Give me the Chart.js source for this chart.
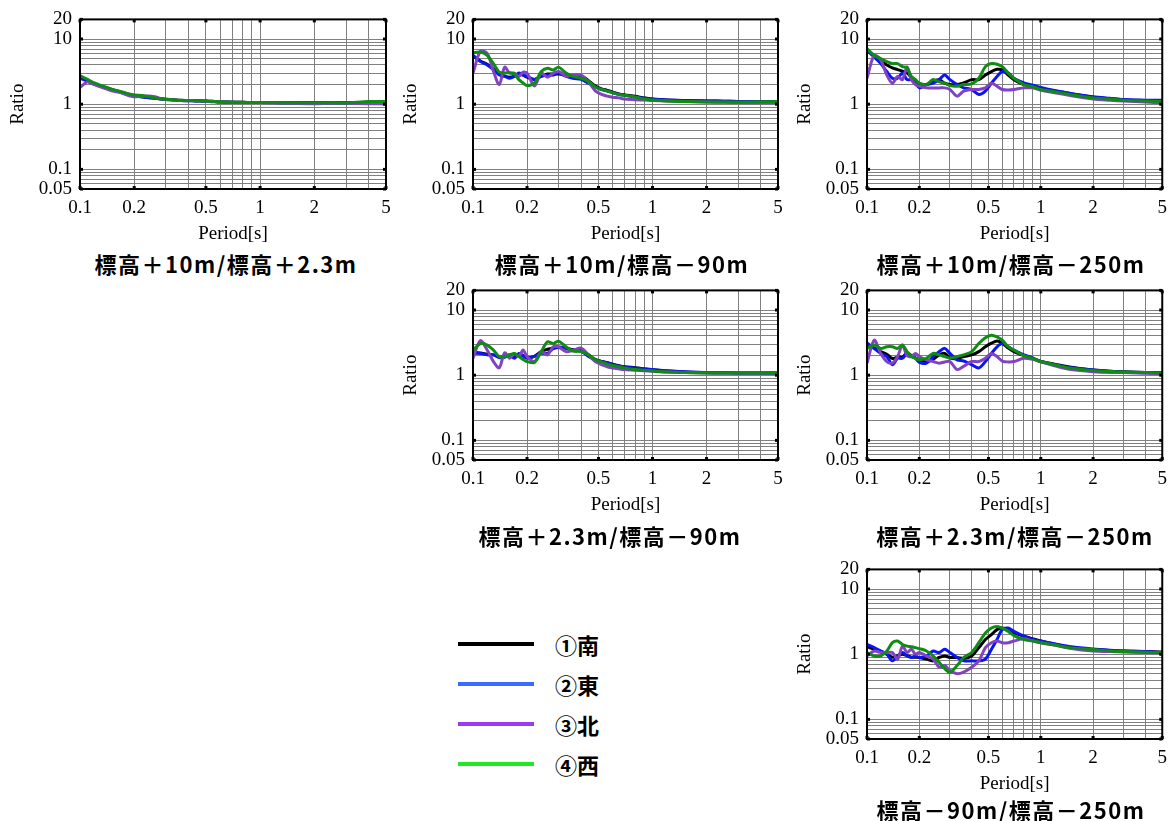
<!DOCTYPE html>
<html>
<head>
<meta charset="utf-8">
<script src="https://cdn.jsdelivr.net/npm/chart.js@4.4.1/dist/chart.umd.min.js"></script>
<style>
  html, body { margin: 0; padding: 0; background: #fff; }
  body { position: relative; width: 1175px; height: 821px; overflow: hidden; }
  canvas { position: absolute; }
  .cap {
    position: absolute; white-space: nowrap; line-height: 1;
    font-family: "Noto Sans CJK JP", sans-serif; font-weight: 700;
    font-size: 22px; letter-spacing: 1.5px; color: #000;
    transform: translate(-50%, -50%);
  }
  .key { position: absolute; height: 4px; width: 76px; left: 458px; }
  .keytxt {
    position: absolute; left: 555px; line-height: 1; white-space: nowrap;
    font-family: "Noto Sans CJK JP", sans-serif; font-weight: 700; font-size: 22px;
    transform: translateY(-50%); color: #000;
  }
</style>
</head>
<body>
<script>
// Period axis samples [s]
const PERIOD = [0.1, 0.11, 0.12, 0.13, 0.14, 0.15, 0.16, 0.17, 0.18, 0.19, 0.2, 0.22, 0.24, 0.26, 0.28, 0.3,
                0.33, 0.36, 0.4, 0.44, 0.48, 0.52, 0.56, 0.6, 0.65, 0.7, 0.8, 0.9, 1.0, 1.2, 1.5, 2, 2.5, 3, 4, 5];

// Grid and tick values
const X_GRID = [0.1, 0.2, 0.3, 0.4, 0.5, 0.6, 0.7, 0.8, 0.9, 1, 2, 3, 4, 5];
const X_LABELS = [0.1, 0.2, 0.5, 1, 2, 5];
const Y_GRID = [0.05, 0.06, 0.07, 0.08, 0.09, 0.1, 0.2, 0.3, 0.4, 0.5, 0.6, 0.7, 0.8, 0.9,
                1, 2, 3, 4, 5, 6, 7, 8, 9, 10, 20];
const Y_LABELS = [0.05, 0.1, 1, 10, 20];

// Direction names
const SERIES_NAMES = ['①南', '②東', '③北', '④西'];

// 標高＋10m/標高＋2.3m
const P1_S = [2.6, 2.3, 2.05, 1.9, 1.78, 1.68, 1.6, 1.52, 1.46, 1.4, 1.36, 1.3, 1.27, 1.24, 1.21, 1.19, 1.17, 1.15, 1.14, 1.13, 1.12, 1.11, 1.1, 1.09, 1.08, 1.07, 1.07, 1.06, 1.06, 1.06, 1.05, 1.05, 1.05, 1.05, 1.06, 1.07];
const P1_E = [2.5, 2.25, 2.02, 1.88, 1.76, 1.66, 1.58, 1.5, 1.44, 1.38, 1.34, 1.3, 1.26, 1.23, 1.2, 1.18, 1.16, 1.14, 1.13, 1.12, 1.11, 1.1, 1.09, 1.08, 1.07, 1.07, 1.06, 1.06, 1.06, 1.06, 1.05, 1.05, 1.05, 1.05, 1.06, 1.06];
const P1_N = [1.8, 2.2, 2.0, 1.85, 1.72, 1.6, 1.55, 1.5, 1.4, 1.33, 1.3, 1.32, 1.34, 1.3, 1.22, 1.18, 1.16, 1.14, 1.13, 1.12, 1.11, 1.1, 1.1, 1.09, 1.08, 1.07, 1.07, 1.06, 1.06, 1.04, 1.03, 1.02, 1.03, 1.03, 1.02, 1.01];
const P1_W = [2.75, 2.4, 2.12, 1.95, 1.82, 1.7, 1.62, 1.55, 1.48, 1.42, 1.38, 1.36, 1.3, 1.25, 1.21, 1.19, 1.17, 1.15, 1.14, 1.13, 1.12, 1.11, 1.1, 1.09, 1.08, 1.07, 1.07, 1.06, 1.06, 1.06, 1.05, 1.05, 1.05, 1.05, 1.1, 1.1];

// 標高＋10m/標高－90m
const P2_S = [5.5, 4.6, 4.1, 3.5, 2.9, 2.7, 2.6, 2.7, 2.9, 2.8, 2.6, 2.4, 2.7, 2.9, 2.9, 2.9, 2.75, 2.6, 2.7, 2.3, 1.9, 1.72, 1.63, 1.53, 1.44, 1.39, 1.32, 1.25, 1.2, 1.16, 1.14, 1.12, 1.11, 1.1, 1.1, 1.1];
const P2_E = [5.6, 4.5, 4.0, 3.4, 2.8, 2.67, 2.5, 2.67, 3.0, 2.8, 2.67, 2.4, 2.67, 2.8, 2.8, 3.0, 2.67, 2.5, 2.4, 2.1, 1.84, 1.68, 1.6, 1.5, 1.41, 1.37, 1.29, 1.23, 1.19, 1.16, 1.14, 1.12, 1.11, 1.1, 1.1, 1.1];
const P2_N = [3.0, 6.5, 6.0, 3.2, 2.0, 3.7, 3.0, 3.0, 2.67, 3.1, 3.0, 1.9, 3.0, 2.6, 3.0, 3.17, 2.7, 2.8, 2.8, 2.2, 1.6, 1.41, 1.33, 1.28, 1.25, 1.2, 1.17, 1.16, 1.14, 1.12, 1.1, 1.08, 1.07, 1.06, 1.05, 1.05];
const P2_W = [6.1, 6.3, 5.6, 4.2, 3.1, 3.0, 3.05, 2.9, 2.38, 2.12, 1.93, 2.12, 3.17, 3.55, 3.36, 3.7, 3.0, 2.67, 2.5, 2.24, 1.84, 1.68, 1.58, 1.5, 1.41, 1.37, 1.29, 1.2, 1.16, 1.12, 1.1, 1.08, 1.08, 1.08, 1.09, 1.1];

// 標高＋10m/標高－250m
const P3_S = [6.8, 5.4, 4.6, 4.0, 3.6, 3.4, 3.2, 3.0, 2.6, 2.3, 2.0, 2.0, 2.24, 2.38, 2.1, 2.0, 2.0, 2.12, 2.38, 2.38, 2.8, 3.17, 3.43, 3.36, 2.8, 2.38, 2.0, 1.88, 1.72, 1.6, 1.45, 1.28, 1.22, 1.17, 1.14, 1.12];
const P3_E = [6.7, 5.3, 4.2, 3.17, 2.5, 2.5, 3.0, 2.38, 2.38, 2.12, 1.78, 2.0, 2.1, 2.38, 2.8, 2.38, 2.0, 1.78, 1.68, 1.41, 1.59, 2.1, 2.67, 3.17, 3.0, 2.5, 2.12, 1.95, 1.8, 1.62, 1.45, 1.3, 1.23, 1.18, 1.15, 1.15];
const P3_N = [2.5, 5.6, 4.75, 2.8, 2.1, 2.67, 2.38, 3.77, 2.38, 2.0, 1.89, 1.78, 1.78, 1.78, 1.78, 1.68, 1.33, 1.59, 1.68, 1.68, 1.78, 2.1, 1.89, 1.68, 1.65, 1.68, 1.78, 1.78, 1.64, 1.5, 1.35, 1.2, 1.15, 1.12, 1.08, 1.05];
const P3_W = [7.1, 5.6, 5.0, 4.5, 4.2, 4.2, 3.77, 3.6, 2.67, 2.38, 2.1, 2.0, 2.4, 2.2, 2.1, 1.93, 1.89, 2.0, 2.05, 2.5, 3.77, 4.2, 4.1, 3.77, 3.0, 2.5, 2.0, 1.85, 1.68, 1.55, 1.4, 1.25, 1.2, 1.15, 1.12, 1.1];

// 標高＋2.3m/標高－90m
const P4_S = [2.2, 2.2, 2.1, 2.05, 1.9, 1.9, 2.0, 1.9, 2.1, 2.0, 1.85, 1.95, 2.3, 2.5, 2.6, 2.65, 2.6, 2.45, 2.4, 2.05, 1.75, 1.62, 1.55, 1.47, 1.4, 1.35, 1.3, 1.25, 1.21, 1.16, 1.12, 1.1, 1.09, 1.08, 1.08, 1.08];
const P4_E = [2.16, 2.16, 2.05, 2.05, 1.86, 1.9, 2.05, 1.82, 2.16, 1.95, 1.82, 1.95, 2.16, 2.16, 2.58, 2.7, 2.6, 2.4, 2.35, 1.93, 1.72, 1.62, 1.55, 1.45, 1.38, 1.33, 1.29, 1.25, 1.22, 1.17, 1.13, 1.1, 1.09, 1.08, 1.08, 1.08];
const P4_N = [1.82, 3.4, 2.43, 1.62, 1.3, 2.2, 1.82, 2.16, 1.93, 2.43, 1.93, 1.62, 2.3, 2.05, 2.73, 2.7, 2.3, 2.4, 2.6, 2.05, 1.62, 1.45, 1.35, 1.29, 1.25, 1.22, 1.19, 1.17, 1.15, 1.12, 1.1, 1.08, 1.08, 1.08, 1.08, 1.08];
const P4_W = [2.43, 3.06, 2.9, 2.43, 1.93, 1.93, 2.05, 2.16, 1.93, 1.75, 1.62, 1.57, 2.3, 3.25, 3.06, 3.33, 2.73, 2.35, 2.3, 2.05, 1.72, 1.6, 1.48, 1.41, 1.35, 1.29, 1.22, 1.19, 1.16, 1.12, 1.1, 1.08, 1.08, 1.08, 1.08, 1.08];

// 標高＋2.3m/標高－250m
const P5_S = [2.9, 2.6, 2.3, 2.1, 1.8, 1.9, 1.9, 2.2, 2.0, 1.85, 1.72, 1.62, 1.75, 2.05, 2.16, 1.85, 1.8, 1.93, 2.05, 2.3, 2.73, 3.1, 3.35, 3.1, 2.6, 2.3, 2.0, 1.8, 1.62, 1.48, 1.32, 1.2, 1.15, 1.13, 1.1, 1.08];
const P5_E = [3.13, 2.58, 2.16, 1.93, 1.45, 1.82, 1.82, 2.16, 1.95, 1.82, 1.57, 1.53, 1.93, 2.3, 2.58, 2.16, 1.72, 1.65, 1.45, 1.29, 1.62, 2.16, 2.73, 3.06, 2.73, 2.43, 2.05, 1.85, 1.62, 1.45, 1.3, 1.2, 1.15, 1.12, 1.1, 1.1];
const P5_N = [1.53, 3.44, 2.16, 1.62, 1.53, 1.93, 2.9, 2.0, 1.93, 2.16, 1.93, 1.72, 1.62, 1.53, 1.6, 1.62, 1.22, 1.37, 1.62, 1.62, 1.82, 2.16, 1.93, 1.65, 1.6, 1.62, 1.82, 1.75, 1.6, 1.4, 1.22, 1.13, 1.1, 1.1, 1.07, 1.05];
const P5_W = [2.58, 2.9, 2.58, 2.73, 2.73, 2.58, 2.9, 2.3, 1.93, 1.82, 1.72, 1.82, 2.16, 2.05, 1.93, 1.82, 1.93, 2.05, 2.3, 3.06, 3.75, 4.1, 3.86, 3.44, 2.73, 2.43, 2.0, 1.8, 1.62, 1.45, 1.28, 1.18, 1.14, 1.12, 1.1, 1.08];

// 標高－90m/標高－250m
const P6_S = [1.3, 1.2, 1.1, 1.0, 0.9, 0.95, 1.0, 0.95, 0.9, 0.9, 0.89, 0.84, 0.79, 0.89, 0.94, 0.89, 0.89, 0.86, 0.94, 1.26, 1.68, 2.0, 2.38, 2.52, 2.38, 2.12, 1.89, 1.72, 1.59, 1.42, 1.25, 1.18, 1.14, 1.12, 1.1, 1.08];
const P6_E = [1.41, 1.26, 1.12, 1.0, 0.79, 0.94, 1.06, 0.94, 0.89, 0.94, 0.89, 0.94, 1.12, 1.06, 1.19, 1.06, 0.89, 0.79, 0.79, 0.79, 0.84, 1.19, 1.68, 2.38, 2.52, 2.24, 1.89, 1.68, 1.59, 1.45, 1.3, 1.2, 1.15, 1.12, 1.1, 1.05];
const P6_N = [0.94, 1.12, 1.06, 1.06, 1.06, 0.84, 1.33, 1.06, 1.19, 1.0, 1.06, 0.94, 0.84, 0.63, 0.67, 0.56, 0.5, 0.53, 0.63, 0.79, 1.26, 1.5, 1.59, 1.5, 1.5, 1.59, 1.72, 1.59, 1.5, 1.38, 1.22, 1.12, 1.1, 1.08, 1.06, 1.05];
const P6_W = [1.06, 0.94, 0.94, 1.12, 1.5, 1.59, 1.41, 1.33, 1.3, 1.26, 1.22, 1.12, 0.94, 0.75, 0.6, 0.53, 0.67, 0.89, 1.06, 1.5, 2.12, 2.52, 2.67, 2.52, 2.24, 1.93, 1.68, 1.6, 1.5, 1.38, 1.25, 1.18, 1.12, 1.1, 1.07, 1.05];

const PANEL_TITLES = ['標高＋10m/標高＋2.3m', '標高＋10m/標高－90m', '標高＋10m/標高－250m',
                      '標高＋2.3m/標高－90m', '標高＋2.3m/標高－250m', '標高－90m/標高－250m'];
const PANEL_SERIES = [
  [P1_S, P1_E, P1_N, P1_W], [P2_S, P2_E, P2_N, P2_W], [P3_S, P3_E, P3_N, P3_W],
  [P4_S, P4_E, P4_N, P4_W], [P5_S, P5_E, P5_N, P5_W], [P6_S, P6_E, P6_N, P6_W]
];

// Styling
const LINE_COLORS = ['#000000', '#0a14f5', '#8242c4', '#0f8c12'];
const KEY_COLORS = ['#000000', '#3a6cff', '#9a3cf0', '#22e822'];
const SERIF = '"Liberation Serif", "Times New Roman", serif';

// Plot-area placement of each panel: left, top, width, canvas width, caption centre x / y
const LAYOUT = [
  { left: 80,  top: 19,  w: 306, cw: 400, capX: 226,  capY: 263 },
  { left: 473, top: 19,  w: 305, cw: 400, capX: 622,  capY: 263 },
  { left: 867, top: 19,  w: 303, cw: 388, capX: 1011, capY: 263 },
  { left: 473, top: 290, w: 305, cw: 400, capX: 610,  capY: 535 },
  { left: 867, top: 290, w: 303, cw: 388, capX: 1015, capY: 535 },
  { left: 867, top: 569, w: 303, cw: 388, capX: 1011, capY: 809 }
];
const PLOT_H = 170, Y_AXIS_W = 80, X_AXIS_H = 56, TOP_PAD = 19;

const near = (v, list) => list.some(t => Math.abs(t - v) < 1e-9 * Math.max(1, t));

// Black frame round the plotting area, with short marks at the labelled values
const frame = {
  id: 'frame',
  afterDatasetsDraw(chart) {
    const { ctx, chartArea: a } = chart;
    ctx.save();
    ctx.strokeStyle = '#000';
    ctx.lineWidth = 2;
    ctx.strokeRect(a.left, a.top, a.right - a.left, a.bottom - a.top);
    ctx.fillStyle = '#000';
    const xs = chart.scales.x, ys = chart.scales.y;
    X_LABELS.forEach(v => {
      const px = xs.getPixelForValue(v);
      ctx.fillRect(px - 1.5, a.top, 3, 3);
      ctx.fillRect(px - 1.5, a.bottom - 3, 3, 3);
    });
    Y_LABELS.forEach(v => {
      const py = ys.getPixelForValue(v);
      ctx.fillRect(a.left, py - 1.5, 3, 3);
      ctx.fillRect(a.right - 3, py - 1.5, 3, 3);
    });
    ctx.restore();
  }
};

function makePanel(i) {
  const L = LAYOUT[i];
  const cv = document.createElement('canvas');
  const H = TOP_PAD + PLOT_H + X_AXIS_H;
  cv.width = L.cw; cv.height = H;
  cv.style.left = (L.left - Y_AXIS_W) + 'px';
  cv.style.top = (L.top - TOP_PAD) + 'px';
  cv.style.width = L.cw + 'px'; cv.style.height = H + 'px';
  document.body.appendChild(cv);

  const datasets = PANEL_SERIES[i].map((vals, k) => ({
    label: SERIES_NAMES[k],
    data: PERIOD.map((p, j) => ({ x: p, y: vals[j] })),
    borderColor: LINE_COLORS[k],
    borderWidth: 3,
    pointRadius: 0,
    tension: 0.3,
    fill: false,
    order: 4 - k
  }));

  const tickFont = { family: SERIF, size: 19 };
  new Chart(cv, {
    type: 'line',
    data: { datasets },
    options: {
      responsive: false,
      animation: false,
      devicePixelRatio: 1,
      layout: { autoPadding: false, padding: { left: 0, top: TOP_PAD, bottom: 0, right: L.cw - Y_AXIS_W - L.w } },
      plugins: { legend: { display: false }, tooltip: { enabled: false } },
      scales: {
        x: {
          type: 'logarithmic', min: 0.1, max: 5,
          afterBuildTicks: s => { s.ticks = X_GRID.map(v => ({ value: v })); },
          afterFit: s => { s.height = X_AXIS_H; },
          grid: { color: '#808080', lineWidth: 1, drawTicks: false },
          border: { display: false },
          ticks: {
            autoSkip: false, maxRotation: 0, padding: 8, color: '#000', font: tickFont,
            callback: v => near(v, X_LABELS) ? String(v) : ''
          },
          title: { display: true, text: 'Period[s]', color: '#000', font: tickFont, padding: { top: 0, bottom: 0 } }
        },
        y: {
          type: 'logarithmic', min: 0.05, max: 20,
          afterBuildTicks: s => { s.ticks = Y_GRID.map(v => ({ value: v })); },
          afterFit: s => { s.width = Y_AXIS_W; },
          grid: { color: '#808080', lineWidth: 1, drawTicks: false },
          border: { display: false },
          ticks: {
            autoSkip: false, padding: 8, color: '#000', font: tickFont,
            callback: v => near(v, Y_LABELS) ? String(v) : ''
          },
          title: { display: true, text: 'Ratio', color: '#000', font: tickFont, padding: { top: 6.6, bottom: 0 } }
        }
      }
    },
    plugins: [frame]
  });

  const cap = document.createElement('div');
  cap.className = 'cap';
  cap.textContent = PANEL_TITLES[i];
  cap.style.left = L.capX + 'px';
  cap.style.top = L.capY + 'px';
  document.body.appendChild(cap);
}

for (let i = 0; i < 6; i++) makePanel(i);

// Direction key
const KEY_Y = [644, 684, 724, 764];
SERIES_NAMES.forEach((name, k) => {
  const ln = document.createElement('div');
  ln.className = 'key';
  ln.style.top = (KEY_Y[k] - 2) + 'px';
  ln.style.background = KEY_COLORS[k];
  document.body.appendChild(ln);
  const t = document.createElement('div');
  t.className = 'keytxt';
  t.style.top = KEY_Y[k] + 'px';
  t.textContent = name;
  document.body.appendChild(t);
});
</script>
</body>
</html>
